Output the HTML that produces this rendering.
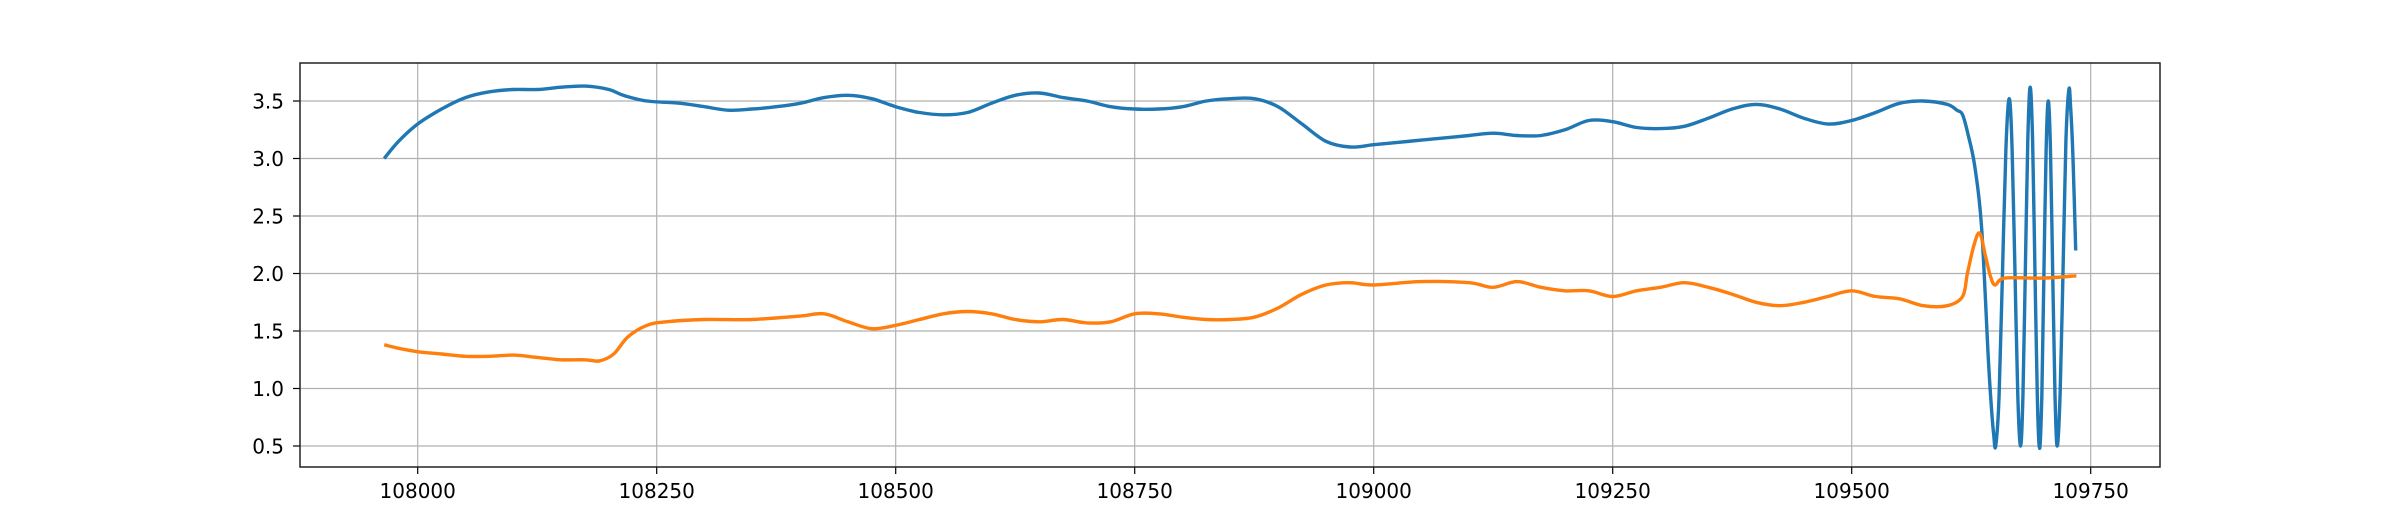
<!DOCTYPE html>
<html><head><meta charset="utf-8"><style>
html,body{margin:0;padding:0;background:#fff;}
svg{display:block;font-family:"DejaVu Sans","Liberation Sans",sans-serif;}
</style></head><body>
<svg id="chart" width="2400" height="525" viewBox="0 0 2400 525" xmlns="http://www.w3.org/2000/svg">
<rect width="2400" height="525" fill="#fff"/>
<g id="grid"></g>
<g id="series"></g>
<g id="axes"></g>
</svg>
<script>
const xTicks = [108000, 108250, 108500, 108750, 109000, 109250, 109500, 109750];
const yTicks = [0.5, 1.0, 1.5, 2.0, 2.5, 3.0, 3.5];
const yTickLabels = ["0.5","1.0","1.5","2.0","2.5","3.0","3.5"];
const blueX = [107965,107980,108000,108025,108050,108075,108100,108125,108150,108175,108200,108215,108240,108275,108300,108325,108350,108375,108400,108425,108450,108475,108500,108525,108550,108575,108600,108625,108650,108675,108700,108725,108750,108775,108800,108825,108850,108875,108900,108925,108950,108975,109000,109025,109050,109075,109100,109125,109150,109175,109200,109225,109250,109275,109300,109325,109350,109375,109400,109425,109450,109475,109500,109525,109550,109575,109600,109610,109616,109622,109628.8,109635.8,109642.8,109646,109648.5,109650.6,109654.2,109657.7,109661.3,109664.8,109667.8,109670.8,109673.7,109676.7,109679.2,109681.7,109684.2,109686.7,109689.2,109691.6,109694.1,109696.5,109698.8,109701,109703.3,109705.6,109708,109710.3,109712.7,109715,109718,109721.1,109724.1,109727.2,109729,109731.5,109734.3];
const blueY = [3.0,3.15,3.3,3.43,3.53,3.58,3.6,3.6,3.62,3.63,3.6,3.55,3.5,3.48,3.45,3.42,3.43,3.45,3.48,3.53,3.55,3.52,3.45,3.4,3.38,3.4,3.48,3.55,3.57,3.53,3.5,3.45,3.43,3.43,3.45,3.5,3.52,3.52,3.45,3.3,3.15,3.1,3.12,3.14,3.16,3.18,3.2,3.22,3.2,3.2,3.25,3.33,3.32,3.27,3.26,3.28,3.35,3.43,3.47,3.43,3.35,3.3,3.33,3.4,3.48,3.5,3.47,3.42,3.38,3.2,2.93,2.41,1.28,0.85,0.6,0.5,0.94,2.01,3.08,3.52,3.08,2.01,0.94,0.5,0.96,2.06,3.16,3.62,3.16,2.05,0.94,0.48,0.92,1.99,3.06,3.5,3.06,2.0,0.94,0.5,0.95,2.05,3.15,3.6,3.45,3.0,2.2];
const orangeX = [107965,107980,108000,108025,108050,108075,108100,108125,108150,108175,108190,108205,108220,108240,108260,108300,108350,108400,108425,108450,108475,108500,108525,108550,108575,108600,108625,108650,108675,108700,108725,108750,108775,108800,108825,108850,108875,108900,108925,108950,108975,109000,109050,109100,109125,109150,109175,109200,109225,109250,109275,109300,109325,109350,109375,109400,109425,109450,109475,109500,109525,109550,109575,109600,109616,109621,109628,109634,109640,109645,109650,109660,109700,109735];
const orangeY = [1.38,1.35,1.32,1.3,1.28,1.28,1.29,1.27,1.25,1.25,1.24,1.3,1.45,1.55,1.58,1.6,1.6,1.63,1.65,1.58,1.52,1.55,1.6,1.65,1.67,1.65,1.6,1.58,1.6,1.57,1.58,1.65,1.65,1.62,1.6,1.6,1.62,1.7,1.82,1.9,1.92,1.9,1.93,1.92,1.88,1.93,1.88,1.85,1.85,1.8,1.85,1.88,1.92,1.88,1.82,1.75,1.72,1.75,1.8,1.85,1.8,1.78,1.72,1.72,1.8,2.0,2.25,2.35,2.15,1.98,1.9,1.96,1.96,1.98];

const NS = "http://www.w3.org/2000/svg";
const L = 300, R = 2160, T = 63, B = 467;
function xs(v){ return 417.7 + (v - 108000) * 0.956; }
function ys(v){ return 101 + (3.5 - v) * 115; }
function mk(tag, attrs, parent){ const e = document.createElementNS(NS, tag); for (const k in attrs) e.setAttribute(k, attrs[k]); parent.appendChild(e); return e; }
const grid = document.getElementById('grid'), axes = document.getElementById('axes'), ser = document.getElementById('series');

xTicks.forEach(t => {
  const x = xs(t);
  const g = mk('line', {x1:x, x2:x, y1:T, y2:B, stroke:'#b0b0b0', 'stroke-width':1.2}, grid);
  
  
  const tk = mk('line', {x1:x, x2:x, y1:B, y2:B+7, stroke:'#000', 'stroke-width':1.2}, axes);
  
  
  const tx = mk('text', {x:x, y:498, 'font-size':20, 'text-anchor':'middle', fill:'#000'}, axes);
  tx.textContent = String(t);
  
  
});
yTicks.forEach((t, i) => {
  const y = ys(t);
  const g = mk('line', {x1:L, x2:R, y1:y, y2:y, stroke:'#b0b0b0', 'stroke-width':1.2}, grid);
  
  
  const tk = mk('line', {x1:L-7, x2:L, y1:y, y2:y, stroke:'#000', 'stroke-width':1.2}, axes);
  
  
  const tx = mk('text', {x:284, y:y+7.5, 'font-size':20, 'text-anchor':'end', fill:'#000'}, axes);
  tx.textContent = yTickLabels[i];
  
  
});
const frame = mk('rect', {x:L, y:T, width:R-L, height:B-T, fill:'none', stroke:'#222', 'stroke-width':1.5}, axes);



function pathFrom(xa, ya){
  const p = xa.map((v,i)=>[xs(v), ys(ya[i])]);
  let d = 'M' + p[0][0].toFixed(1) + ',' + p[0][1].toFixed(1);
  for (let i = 0; i < p.length - 1; i++){
    const p0 = p[Math.max(0,i-1)], p1 = p[i], p2 = p[i+1], p3 = p[Math.min(p.length-1,i+2)];
    const c1x = p1[0] + (p2[0]-p0[0])/6, c1y = p1[1] + (p2[1]-p0[1])/6;
    const c2x = p2[0] - (p3[0]-p1[0])/6, c2y = p2[1] - (p3[1]-p1[1])/6;
    d += ' C' + c1x.toFixed(1)+','+c1y.toFixed(1)+' '+c2x.toFixed(1)+','+c2y.toFixed(1)+' '+p2[0].toFixed(1)+','+p2[1].toFixed(1);
  }
  return d;
}
const blue = mk('path', {d:pathFrom(blueX, blueY), fill:'none', stroke:'#1f77b4', 'stroke-width':3.4, 'stroke-linejoin':'round'}, ser);


const orange = mk('path', {d:pathFrom(orangeX, orangeY), fill:'none', stroke:'#ff7f0e', 'stroke-width':3.4, 'stroke-linejoin':'round'}, ser);


</script>
</body></html>
